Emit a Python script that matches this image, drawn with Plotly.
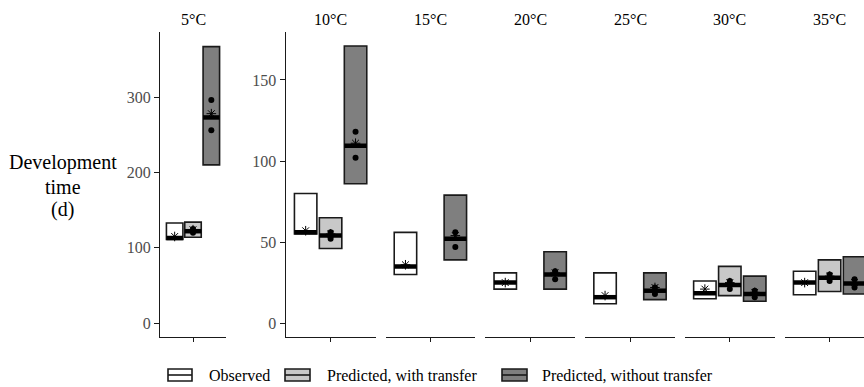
import plotly.graph_objects as go

W, H = 864, 387

# ---- data -------------------------------------------------------------
temps = ["5°C", "10°C", "15°C", "20°C", "25°C", "30°C", "35°C"]

# Observed development time (d): range, median and mean per temperature
obs_min = [111, 55, 30, 21, 12, 15, 17.5]
obs_max = [133, 80, 56, 31, 31, 26, 32]
obs_med = [113, 56, 35, 25, 16, 18.5, 25]
obs_mean = [115, 57, 36, 25, 17, 21, 25]

# Predicted, with transfer (not available at 15-25°C)
wt_min = [114, 46, None, None, None, 17, 19.5]
wt_max = [134, 65, None, None, None, 35, 39]
wt_med = [122, 54, None, None, None, 23.6, 28]
wt_mean = [124, 55, None, None, None, 25, 29]
wt_pts = [[120, 125], [52, 56], [], [], [], [21, 26], [26, 30]]

# Predicted, without transfer
nt_min = [210, 86, 39, 21, 14.5, 13.5, 18]
nt_max = [367, 171, 79, 44, 31, 29, 41]
nt_med = [273, 109.5, 52, 30, 20, 18, 24.5]
nt_mean = [278, 111, 54, 31, 22, 19, 25]
nt_pts = [[256, 296], [102, 118], [47, 56], [27, 32], [18, 22], [16, 20], [22, 27]]

series_names = ["Observed", "Predicted, with transfer", "Predicted, without transfer"]
fills = ["#ffffff", "#c8c8c8", "#7f7f7f"]
edge = "#1a1a1a"
FONT = "Liberation Serif"

# ---- panel geometry (pixels) -------------------------------------------
panel_px = [(160, 226)] + [(285.7 + 99.8 * i, 375.5 + 99.8 * i) for i in range(6)]
y_top, y_bot = 32, 337
offsets = [-1 / 3, 0, 1 / 3]
box_w = 0.3


def fx(x):
    return x / W


def fy(y):
    return 1 - y / H


fig = go.Figure()
layout = dict(
    width=W, height=H, margin=dict(l=0, r=0, t=0, b=0),
    paper_bgcolor="white", plot_bgcolor="white",
    barmode="overlay", showlegend=False,
    font=dict(family=FONT, size=16, color="black"),
)

annotations = []
shapes = []

for i, t in enumerate(temps):
    xa = "x" if i == 0 else f"x{i + 1}"
    ya = "y" if i == 0 else "y2"
    x0, x1 = panel_px[i]
    full_w = x1 - x0
    dom_x1 = min(x1, W)
    rng_hi = -0.6 + 1.2 * (dom_x1 - x0) / full_w
    xkey = "xaxis" if i == 0 else f"xaxis{i + 1}"
    layout[xkey] = dict(
        domain=[fx(x0), fx(dom_x1)], range=[-0.6, rng_hi], anchor=ya,
        showline=True, linecolor=edge, linewidth=1.3,
        ticks="outside", ticklen=4, tickcolor=edge, tickwidth=1.2,
        tickvals=[0], showticklabels=False, showgrid=False, zeroline=False,
        fixedrange=True,
    )
    annotations.append(dict(
        x=(x0 + x1) / 2 / W, y=fy(19), xref="paper", yref="paper",
        text=t, showarrow=False, xanchor="center", yanchor="middle",
        font=dict(family=FONT, size=16, color="black"),
    ))

    groups = [
        (obs_min[i], obs_max[i], obs_med[i], obs_mean[i], []),
        (wt_min[i], wt_max[i], wt_med[i], wt_mean[i], wt_pts[i]),
        (nt_min[i], nt_max[i], nt_med[i], nt_mean[i], nt_pts[i]),
    ]
    for g, (lo, hi, med, mean, pts) in enumerate(groups):
        if lo is None:
            continue
        pos = offsets[g]
        fig.add_trace(go.Bar(
            x=[pos], base=[lo], y=[hi - lo], width=box_w,
            marker=dict(color=fills[g], line=dict(color=edge, width=1.6)),
            xaxis=xa, yaxis=ya, name=series_names[g], hoverinfo="skip",
        ))
        fig.add_trace(go.Scatter(
            x=[pos - box_w / 2, pos + box_w / 2], y=[med, med], mode="lines",
            line=dict(color="black", width=4.5), xaxis=xa, yaxis=ya,
            hoverinfo="skip",
        ))
        if pts:
            fig.add_trace(go.Scatter(
                x=[pos] * len(pts), y=pts, mode="markers",
                marker=dict(symbol="circle", size=6, color="black"),
                xaxis=xa, yaxis=ya, hoverinfo="skip",
            ))
        fig.add_trace(go.Scatter(
            x=[pos], y=[mean], mode="markers",
            marker=dict(symbol="asterisk-open", size=8, color="black",
                        line=dict(color="black", width=1)),
            xaxis=xa, yaxis=ya, hoverinfo="skip",
        ))

# y axes: 5°C has its own scale, 10-35°C share one
ydom = [fy(y_bot), fy(y_top)]
layout["yaxis"] = dict(
    domain=ydom, range=[-18.4, 386.4], anchor="x",
    tickvals=[0, 100, 200, 300], showline=True, linecolor=edge, linewidth=1.3,
    ticks="outside", ticklen=5, tickcolor=edge, tickwidth=1.2,
    tickfont=dict(family=FONT, size=16, color="#4d4d4d"),
    showgrid=False, zeroline=False, fixedrange=True,
)
layout["yaxis2"] = dict(
    domain=ydom, range=[-8.55, 179.6], anchor="x2",
    tickvals=[0, 50, 100, 150], showline=True, linecolor=edge, linewidth=1.3,
    ticks="outside", ticklen=5, tickcolor=edge, tickwidth=1.2,
    tickfont=dict(family=FONT, size=16, color="#4d4d4d"),
    showgrid=False, zeroline=False, fixedrange=True,
)

# y-axis title, one line per annotation
for txt, yc in [("Development", 163), ("time", 187), ("(d)", 209)]:
    annotations.append(dict(
        x=fx(62.5), y=fy(yc), xref="paper", yref="paper", text=txt,
        showarrow=False, xanchor="center", yanchor="middle",
        font=dict(family=FONT, size=20, color="black"),
    ))

# legend: crossbar keys with labels
legend_items = [(168, 192, 207), (285, 310, 325), (502, 527, 540)]
ky0, ky1 = 369, 381
for (kx0, kx1, tx), name, fill in zip(legend_items, series_names, fills):
    shapes.append(dict(
        type="rect", xref="paper", yref="paper",
        x0=fx(kx0), x1=fx(kx1), y0=fy(ky1), y1=fy(ky0),
        fillcolor=fill, line=dict(color=edge, width=1.6),
    ))
    shapes.append(dict(
        type="line", xref="paper", yref="paper",
        x0=fx(kx0), x1=fx(kx1), y0=fy((ky0 + ky1) / 2), y1=fy((ky0 + ky1) / 2),
        line=dict(color=edge, width=1.6),
    ))
    annotations.append(dict(
        x=fx(tx), y=fy((ky0 + ky1) / 2), xref="paper", yref="paper",
        text=name, showarrow=False, xanchor="left", yanchor="middle",
        font=dict(family=FONT, size=16, color="black"),
    ))

layout["annotations"] = annotations
layout["shapes"] = shapes
fig.update_layout(**layout)

fig.write_html("out.html")
